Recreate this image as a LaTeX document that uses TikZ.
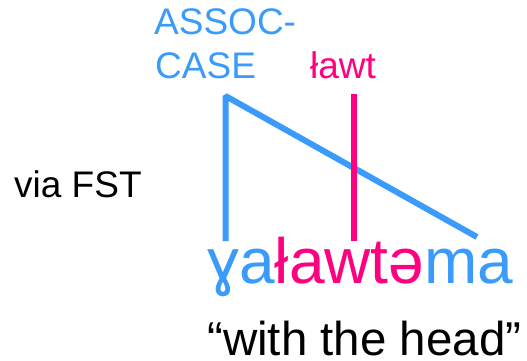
\documentclass[tikz,border=0pt]{standalone}
\usepackage{fontspec}
\setmainfont{Liberation Sans}
\definecolor{cblue}{RGB}{58,155,250}
\definecolor{cpink}{RGB}{255,0,128}
\begin{document}
\begin{tikzpicture}[x=1pt,y=-1pt,
  lbl/.style={inner sep=0pt, anchor=base west, text depth=0pt},
  midfont/.style={font=\fontsize{37}{43}\selectfont},
  bigfont/.style={font=\fontsize{64}{70}\selectfont},
  glossfont/.style={font=\fontsize{47.5}{55}\selectfont},
  blueline/.style={draw=cblue, line width=6pt, line cap=butt, line join=bevel},
  pinkline/.style={draw=cpink, line width=6pt, line cap=butt}]
\useasboundingbox (0,0) rectangle (527,361);
\node[lbl, midfont, text=cblue] (assoc) at (154,35) {ASSOC-};
\node[lbl, midfont, text=cblue] (case) at (155,78) {CASE};
\node[lbl, midfont, text=cpink] (lawt) at (310,78) {ławt};
\node[lbl, midfont, text=black] (via) at (14,197) {via FST};
\node[lbl, bigfont] (word) at (207,283) {\textcolor{cblue}{ɣa}\textcolor{cpink}{ławtə}\textcolor{cblue}{ma}};
\node[lbl, glossfont, text=black] (gloss) at (207,355) {“with the head”};
\coordinate (btop) at (225.5,96);
\coordinate (bbot) at (225.5,241);
\coordinate (bend) at (477,237);
\coordinate (ptop) at (354,94);
\coordinate (pbot) at (354,241);
\draw[blueline] (bbot) -- (btop) -- (bend);
\draw[pinkline] (ptop) -- (pbot);
\end{tikzpicture}
\end{document}
